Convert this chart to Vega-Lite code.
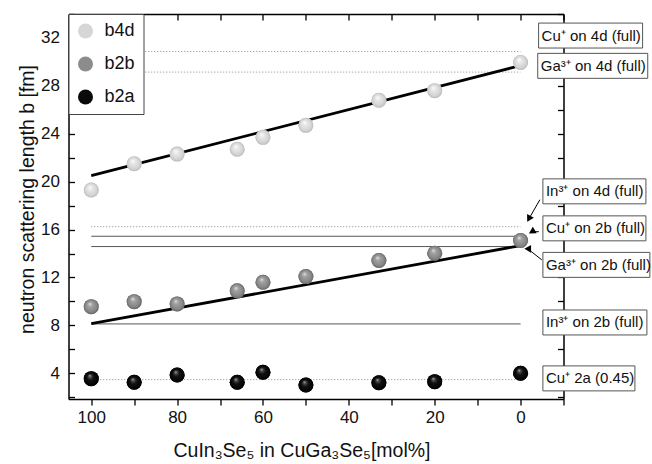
{
  "$schema": "https://vega.github.io/schema/vega-lite/v6.json",
  "width": 495,
  "height": 385,
  "autosize": "none",
  "padding": {"left": 68.5, "top": 14, "right": 88.5, "bottom": 65},
  "background": "white",
  "config": {
    "view": {"stroke": null},
    "font": "Liberation Sans",
    "axis": {
      "domainColor": "black", "domainWidth": 1.5, "tickColor": "black", "tickWidth": 1.3,
      "labelFont": "Liberation Sans", "labelFontSize": 17, "labelColor": "#111",
      "titleFont": "Liberation Sans", "titleFontSize": 19.5, "titleFontWeight": "normal", "titleColor": "#111",
      "grid": false
    },
    "legend": {
      "orient": "top-left", "offset": 0, "padding": 8, "fillColor": "white", "strokeColor": "#444",
      "symbolSize": 225, "symbolStrokeWidth": 0, "symbolType": "circle",
      "labelFont": "Liberation Sans", "labelFontSize": 18, "labelColor": "#111",
      "rowPadding": 15, "labelOffset": 10
    }
  },
  "datasets": {
    "pts": [
      {"series": "b4d", "x": 100, "b": 19.3}, {"series": "b4d", "x": 90, "b": 21.5}, {"series": "b4d", "x": 80, "b": 22.3},
      {"series": "b4d", "x": 66, "b": 22.7}, {"series": "b4d", "x": 60, "b": 23.7}, {"series": "b4d", "x": 50, "b": 24.7},
      {"series": "b4d", "x": 33, "b": 26.8}, {"series": "b4d", "x": 20, "b": 27.6}, {"series": "b4d", "x": 0, "b": 29.95},
      {"series": "b2b", "x": 100, "b": 9.56}, {"series": "b2b", "x": 90, "b": 9.98}, {"series": "b2b", "x": 80, "b": 9.79},
      {"series": "b2b", "x": 66, "b": 10.88}, {"series": "b2b", "x": 60, "b": 11.6}, {"series": "b2b", "x": 50, "b": 12.07},
      {"series": "b2b", "x": 33, "b": 13.41}, {"series": "b2b", "x": 20, "b": 14.02}, {"series": "b2b", "x": 0, "b": 15.08},
      {"series": "b2a", "x": 100, "b": 3.55}, {"series": "b2a", "x": 90, "b": 3.25}, {"series": "b2a", "x": 80, "b": 3.86},
      {"series": "b2a", "x": 66, "b": 3.25}, {"series": "b2a", "x": 60, "b": 4.08}, {"series": "b2a", "x": 50, "b": 3.02},
      {"series": "b2a", "x": 33, "b": 3.21}, {"series": "b2a", "x": 20, "b": 3.3}, {"series": "b2a", "x": 0, "b": 4.0}
    ],
    "fits": [
      {"series": "b4d", "x": 100, "b": 20.5}, {"series": "b4d", "x": 0, "b": 29.7},
      {"series": "b2b", "x": 100, "b": 8.14}, {"series": "b2b", "x": 0, "b": 14.66}
    ],
    "dottedRefs": [
      {"ref": "Cu 4d", "b": 30.87}, {"ref": "Ga 4d", "b": 29.15}, {"ref": "In 4d", "b": 16.24}, {"ref": "Cu 2a", "b": 3.47}
    ],
    "solidRefs": [
      {"ref": "Cu 2b", "b": 15.44}, {"ref": "Ga 2b", "b": 14.58}, {"ref": "In 2b", "b": 8.12}
    ],
    "labels": [
      {"label": "Cu⁺ on 4d (full)", "x": -4.2, "ly": 32.2},
      {"label": "Ga³⁺ on 4d (full)", "x": -4.0, "ly": 29.67},
      {"label": "In³⁺ on 4d (full)", "x": -5.2, "ly": 19.19},
      {"label": "Cu⁺ on 2b (full)", "x": -5.2, "ly": 16.1},
      {"label": "Ga³⁺ on 2b (full)", "x": -5.2, "ly": 13.05},
      {"label": "In³⁺ on 2b (full)", "x": -5.2, "ly": 8.24},
      {"label": "Cu⁺ 2a (0.45)", "x": -5.2, "ly": 3.57}
    ],
    "arrows": [
      {"arrow": "In4d", "x": -4.5, "y": 18.49, "x2": -1.93, "y2": 16.89},
      {"arrow": "Cu2b", "x": -4.26, "y": 15.82, "x2": -2.63, "y2": 15.82},
      {"arrow": "Ga2b", "x": -4.95, "y": 13.47, "x2": -1.67, "y2": 14.39}
    ]
  },
  "layer": [
    {
      "data": {"name": "dottedRefs"},
      "mark": {"type": "rule", "color": "#888", "strokeWidth": 1, "strokeDash": [1, 2]},
      "encoding": {
        "x": {"datum": 100, "type": "quantitative",
          "scale": {"domain": [-10, 105.3], "reverse": true, "nice": false, "zero": false},
          "axis": {"orient": "bottom", "values": [100, 90, 80, 70, 60, 50, 40, 30, 20, 10, 0, -10],
            "labelExpr": "datum.value % 20 == 0 ? datum.label : ''", "tickSize": 6, "labelPadding": 4,
            "title": "CuIn₃Se₅ in CuGa₃Se₅[mol%]", "titlePadding": 16, "titleX": 233}},
        "x2": {"datum": 0},
        "y": {"field": "b", "type": "quantitative",
          "scale": {"domain": [1.85, 34], "nice": false, "zero": false},
          "axis": {"orient": "left", "values": [2, 4, 6, 8, 10, 12, 14, 16, 18, 20, 22, 24, 26, 28, 30, 32, 34],
            "labelExpr": "datum.value % 4 == 0 ? datum.label : ''", "tickSize": -6, "labelPadding": 15,
            "title": "neutron scattering length b [fm]", "titlePadding": 3, "titleY": 185}}
      }
    },
    {
      "data": {"name": "solidRefs"},
      "mark": {"type": "rule", "color": "#555", "strokeWidth": 1},
      "encoding": {
        "x": {"datum": 100, "type": "quantitative",
          "axis": {"orient": "top", "values": [100, 90, 80, 70, 60, 50, 40, 30, 20, 10, 0, -10], "labels": false, "tickSize": -6, "title": null}},
        "x2": {"datum": 0},
        "y": {"field": "b", "type": "quantitative",
          "axis": {"orient": "right", "values": [2, 4, 6, 8, 10, 12, 14, 16, 18, 20, 22, 24, 26, 28, 30, 32, 34], "labels": false, "tickSize": -6, "title": null}}
      }
    },
    {
      "data": {"name": "fits"},
      "mark": {"type": "line", "color": "black", "strokeWidth": 2.8},
      "encoding": {
        "x": {"field": "x", "type": "quantitative", "axis": null},
        "y": {"field": "b", "type": "quantitative", "axis": null},
        "detail": {"field": "series"}
      }
    },
    {
      "data": {"name": "pts"},
      "mark": {"type": "point", "shape": "circle", "filled": true, "size": 225, "strokeWidth": 0, "opacity": 1},
      "encoding": {
        "x": {"field": "x", "type": "quantitative", "axis": null},
        "y": {"field": "b", "type": "quantitative", "axis": null},
        "fill": {"field": "series", "type": "nominal",
          "scale": {"domain": ["b4d", "b2b", "b2a"], "range": ["#d6d6d6", "#8c8c8c", "#0a0a0a"]},
          "legend": {"title": null}}
      }
    },
    {
      "data": {"name": "pts"},
      "transform": [{"filter": "datum.series == 'b4d'"}],
      "mark": {"type": "point", "shape": "circle", "filled": true, "size": 225, "strokeWidth": 0, "opacity": 1,
        "fill": {"gradient": "radial", "x1": 0.4, "y1": 0.3, "r1": 0, "x2": 0.5, "y2": 0.5, "r2": 0.5,
          "stops": [{"offset": 0, "color": "#ffffff"}, {"offset": 0.3, "color": "#e8e8e8"}, {"offset": 0.8, "color": "#d2d2d2"}, {"offset": 1, "color": "#bcbcbc"}]}},
      "encoding": {
        "x": {"field": "x", "type": "quantitative", "axis": null},
        "y": {"field": "b", "type": "quantitative", "axis": null}
      }
    },
    {
      "data": {"name": "pts"},
      "transform": [{"filter": "datum.series == 'b2b'"}],
      "mark": {"type": "point", "shape": "circle", "filled": true, "size": 225, "strokeWidth": 0, "opacity": 1,
        "fill": {"gradient": "radial", "x1": 0.4, "y1": 0.3, "r1": 0, "x2": 0.5, "y2": 0.5, "r2": 0.5,
          "stops": [{"offset": 0, "color": "#e8e8e8"}, {"offset": 0.3, "color": "#a2a2a2"}, {"offset": 0.8, "color": "#858585"}, {"offset": 1, "color": "#666666"}]}},
      "encoding": {
        "x": {"field": "x", "type": "quantitative", "axis": null},
        "y": {"field": "b", "type": "quantitative", "axis": null}
      }
    },
    {
      "data": {"name": "pts"},
      "transform": [{"filter": "datum.series == 'b2a'"}],
      "mark": {"type": "point", "shape": "circle", "filled": true, "size": 225, "strokeWidth": 0, "opacity": 1,
        "fill": {"gradient": "radial", "x1": 0.4, "y1": 0.3, "r1": 0, "x2": 0.5, "y2": 0.5, "r2": 0.5,
          "stops": [{"offset": 0, "color": "#d8d8d8"}, {"offset": 0.15, "color": "#555555"}, {"offset": 0.45, "color": "#111111"}, {"offset": 1, "color": "#000000"}]}},
      "encoding": {
        "x": {"field": "x", "type": "quantitative", "axis": null},
        "y": {"field": "b", "type": "quantitative", "axis": null}
      }
    },
    {
      "data": {"name": "labels"},
      "mark": {"type": "point", "filled": true, "fill": "white", "stroke": "#555", "strokeWidth": 1, "size": 12100, "opacity": 1, "clip": false},
      "encoding": {
        "x": {"field": "x", "type": "quantitative", "axis": null},
        "y": {"field": "ly", "type": "quantitative", "axis": null},
        "shape": {"field": "label", "type": "nominal", "legend": null,
          "scale": {"domain": ["Cu⁺ on 4d (full)", "Ga³⁺ on 4d (full)", "In³⁺ on 4d (full)", "Cu⁺ on 2b (full)", "Ga³⁺ on 2b (full)", "In³⁺ on 2b (full)", "Cu⁺ 2a (0.45)"],
            "range": ["M0,-0.227H1.891V0.227H0Z", "M0,-0.227H2.0V0.227H0Z", "M0,-0.227H1.873V0.227H0Z", "M0,-0.227H1.873V0.227H0Z", "M0,-0.227H1.945V0.227H0Z", "M0,-0.227H1.891V0.227H0Z", "M0,-0.227H1.673V0.227H0Z"]}}
      }
    },
    {
      "data": {"name": "labels"},
      "mark": {"type": "text", "align": "left", "baseline": "middle", "dx": 3, "fontSize": 15, "font": "Liberation Sans", "color": "#111", "clip": false},
      "encoding": {
        "x": {"field": "x", "type": "quantitative", "axis": null},
        "y": {"field": "ly", "type": "quantitative", "axis": null},
        "text": {"field": "label"}
      }
    },
    {
      "data": {"name": "arrows"},
      "mark": {"type": "rule", "color": "black", "strokeWidth": 1, "clip": false},
      "encoding": {
        "x": {"field": "x", "type": "quantitative", "axis": null},
        "y": {"field": "y", "type": "quantitative", "axis": null},
        "x2": {"field": "x2"},
        "y2": {"field": "y2"}
      }
    },
    {
      "data": {"name": "arrows"},
      "mark": {"type": "point", "shape": "triangle-up", "filled": true, "color": "black", "size": 60, "opacity": 1, "clip": false},
      "encoding": {
        "x": {"field": "x2", "type": "quantitative", "axis": null},
        "y": {"field": "y2", "type": "quantitative", "axis": null},
        "angle": {"field": "arrow", "type": "nominal", "legend": null,
          "scale": {"domain": ["In4d", "Cu2b", "Ga2b"], "range": [209, 270, 310]}}
      }
    }
  ],
  "resolve": {"axis": {"x": "independent", "y": "independent"}}
}
